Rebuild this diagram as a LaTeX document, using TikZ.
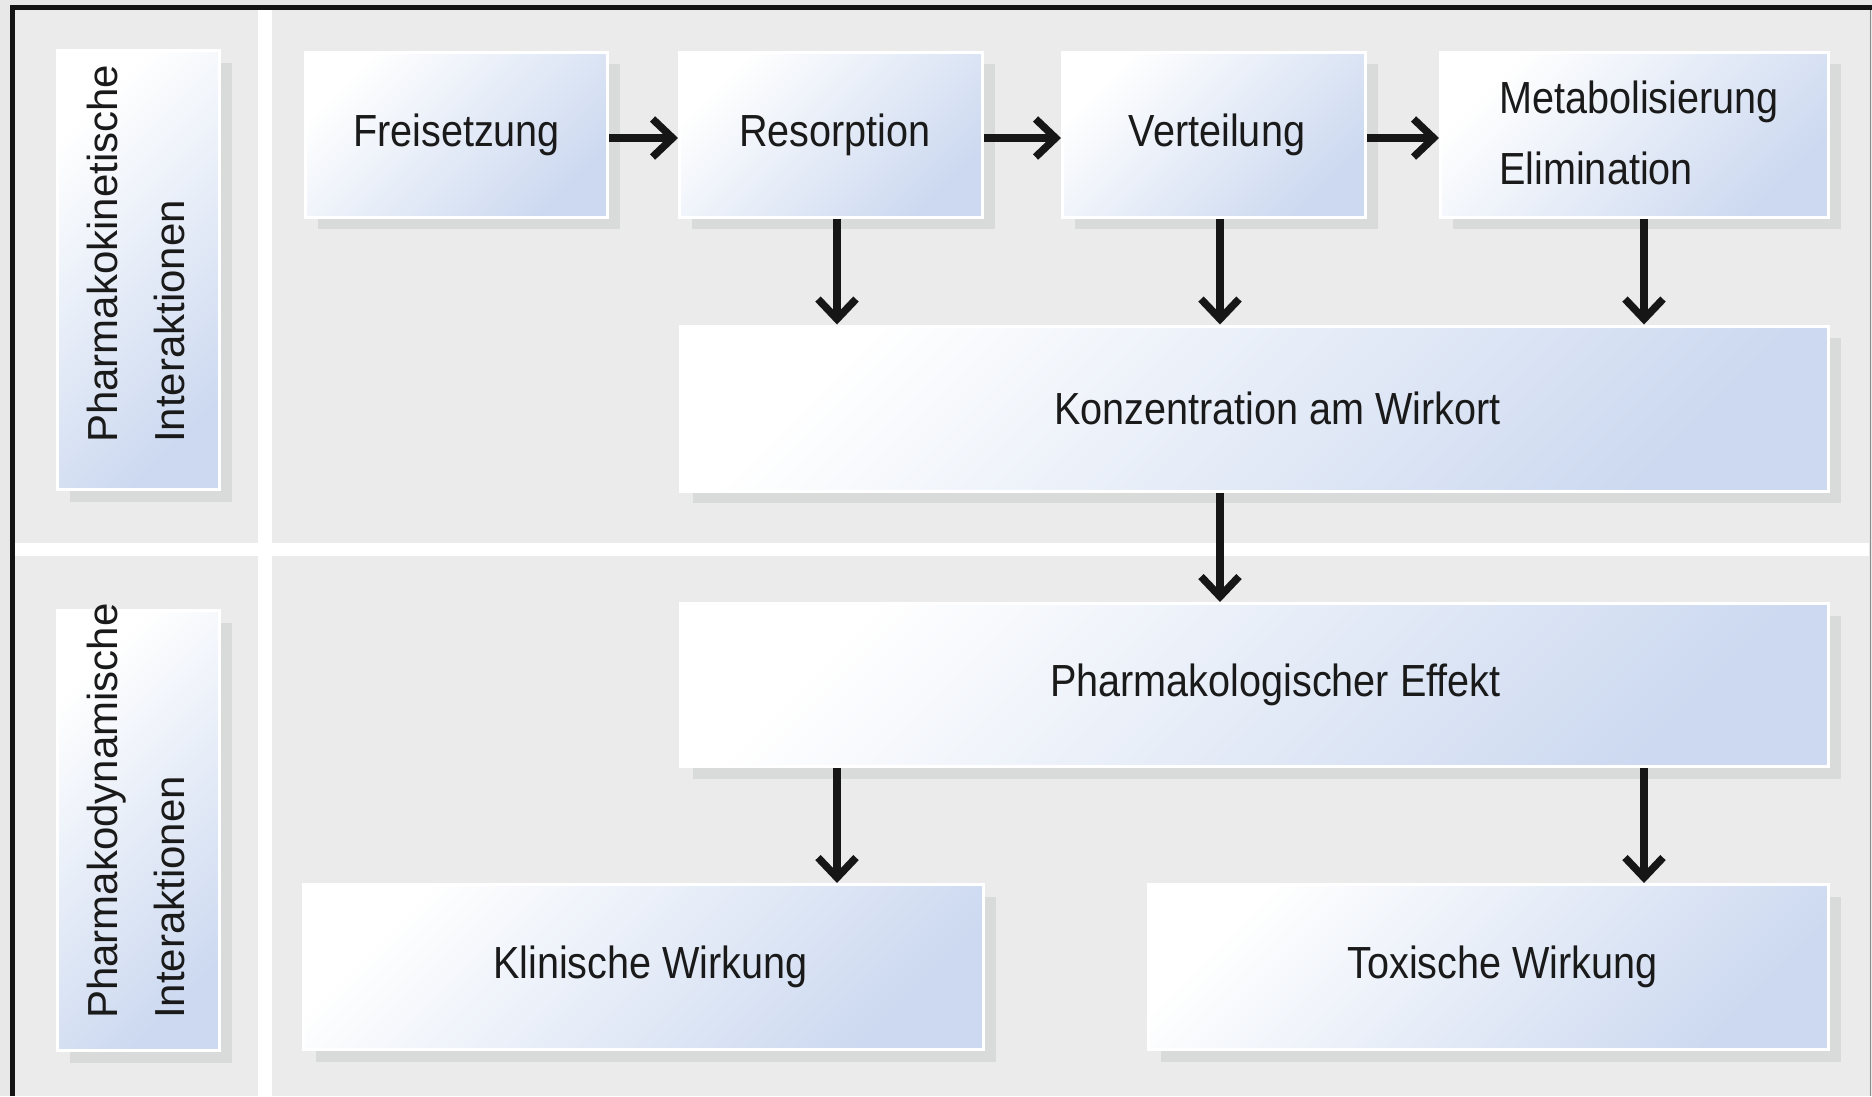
\documentclass[tikz,border=0pt]{standalone}
\usepackage{fontspec}
\setmainfont{Liberation Sans}[FakeStretch=0.88]
\newfontfamily\labelfont{Liberation Sans}
\usetikzlibrary{arrows.meta,shadows,calc}

\definecolor{outerbg}{RGB}{232,232,232}
\definecolor{panel}{RGB}{235,235,235}
\definecolor{boxblue}{RGB}{204,217,240}
\definecolor{shadowgray}{RGB}{217,219,218}
\definecolor{txtcol}{RGB}{26,26,26}
\definecolor{arrowblack}{RGB}{22,22,22}

\begin{document}
\begin{tikzpicture}[x=1pt,y=-1pt,
  stepbox/.style={draw=white, line width=3pt, top color=white, bottom color=boxblue,
    shading angle=45, inner sep=0pt, minimum height=165pt,
    general shadow={fill=shadowgray, opacity=1, shadow xshift=12pt, shadow yshift=-12pt}},
  boxtext/.style={inner sep=0pt, text=txtcol, font=\fontsize{45}{54}\selectfont},
  sidetext/.style={inner sep=0pt, text=txtcol, font=\labelfont\fontsize{42}{50}\selectfont,
    rotate=90, anchor=base west},
  flow/.style={draw=arrowblack, line width=7.5pt,
    -{Straight Barb[length=20pt,width=38pt]}}
]
\useasboundingbox (0,0) rectangle (1872,1096);

% background and frame
\fill[outerbg] (0,0) rectangle (1872,1096);
\fill[white] (15,10) rectangle (1869,1096);
\fill[panel] (15,10) rectangle (258,543);
\fill[panel] (272,10) rectangle (1869,543);
\fill[panel] (15,556) rectangle (258,1096);
\fill[panel] (272,556) rectangle (1869,1096);
\draw[line width=5pt, black!92] (12.5,1096) -- (12.5,7.5) -- (1872,7.5);
\draw[line width=1.5pt, black!45] (1870.5,10) -- (1870.5,1096);

% side label boxes
\node[stepbox, minimum width=162pt, minimum height=439pt] (lab1) at (138.5,270) {};
\node[stepbox, minimum width=162pt, minimum height=440pt] (lab2) at (138.5,830.5) {};
\node[sidetext] (lab1a) at (117,443) {Pharmakokinetische};
\node[sidetext] (lab1b) at (184,443) {Interaktionen};
\node[sidetext] (lab2a) at (117,1019) {Pharmakodynamische};
\node[sidetext] (lab2b) at (184,1019) {Interaktionen};

% top row
\node[stepbox, minimum width=302pt] (frei) at (456.5,134.5) {};
\node[stepbox, minimum width=303pt] (res) at (831,134.5) {};
\node[stepbox, minimum width=303pt] (vert) at (1214,134.5) {};
\node[stepbox, minimum width=388pt] (met) at (1634.5,134.5) {};
\node[boxtext] (freiT) at (frei) {Freisetzung};
\node[boxtext] (resT) at ($(res)+(4,0)$) {Resorption};
\node[boxtext] (vertT) at ($(vert)+(3,0)$) {Verteilung};
\node[boxtext, anchor=base west] (metT1) at (1499,113) {Metabolisierung};
\node[boxtext, anchor=base west] (metT2) at (1499,184) {Elimination};

% middle boxes
\node[stepbox, minimum width=1148pt] (konz) at (1254.5,408.5) {};
\node[boxtext] (konzT) at ($(konz)+(23,0)$) {Konzentration am Wirkort};
\node[stepbox, minimum width=1148pt, minimum height=163pt] (eff) at (1254.5,685) {};
\node[boxtext] (effT) at ($(eff)+(21,0)$) {Pharmakologischer Effekt};

% bottom boxes
\node[stepbox, minimum width=680pt] (klin) at (643.5,967) {};
\node[boxtext] (klinT) at ($(klin)+(7,0)$) {Klinische Wirkung};
\node[stepbox, minimum width=680pt] (tox) at (1488.5,967) {};
\node[boxtext] (toxT) at ($(tox)+(14,0)$) {Toxische Wirkung};

% arrow guide coordinates
\coordinate (rowY) at (0,138);
\coordinate (colA) at (837,0);
\coordinate (colB) at (1220,0);
\coordinate (colC) at (1644,0);

% arrows
\draw[flow] (frei.east |- rowY) -- (res.west |- rowY);
\draw[flow] (res.east |- rowY) -- (vert.west |- rowY);
\draw[flow] (vert.east |- rowY) -- (met.west |- rowY);
\draw[flow] (res.south -| colA) -- (konz.north -| colA);
\draw[flow] (vert.south -| colB) -- (konz.north -| colB);
\draw[flow] (met.south -| colC) -- (konz.north -| colC);
\draw[flow] (konz.south -| colB) -- (eff.north -| colB);
\draw[flow] (eff.south -| colA) -- (klin.north -| colA);
\draw[flow] (eff.south -| colC) -- (tox.north -| colC);
\end{tikzpicture}
\end{document}
